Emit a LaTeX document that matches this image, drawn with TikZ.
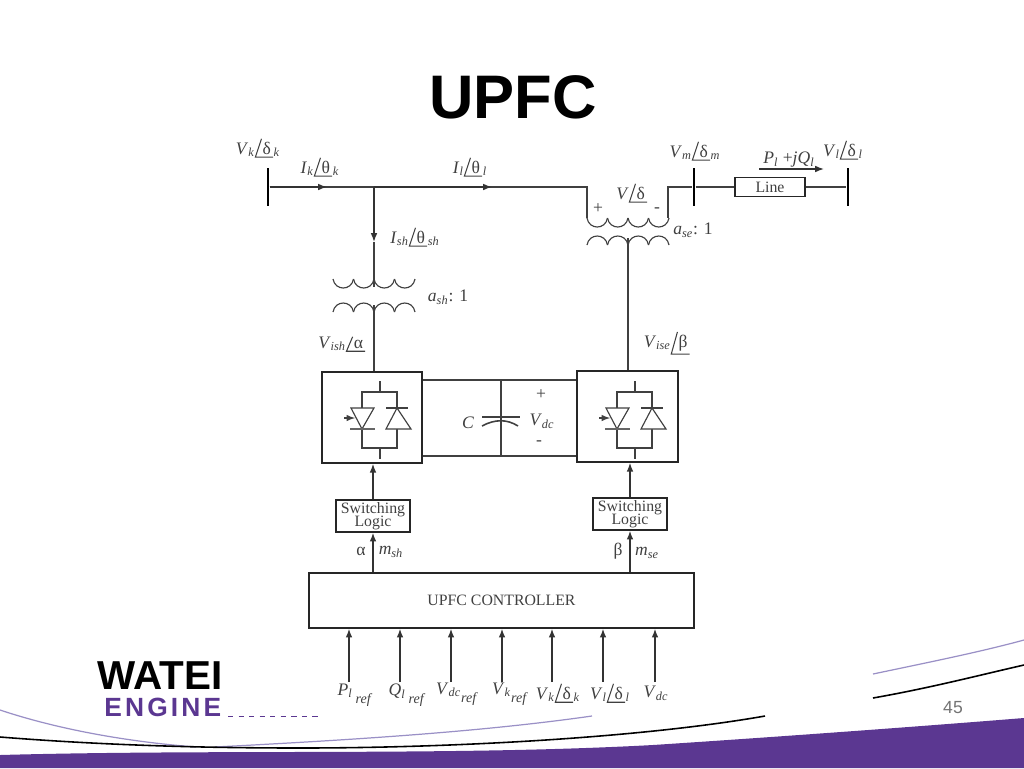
\documentclass[tikz,border=0pt]{standalone}
\usepackage{fontspec}
\setmainfont{Liberation Serif}
\newfontfamily\sansfont{Liberation Sans}
\usetikzlibrary{arrows.meta, positioning}

\definecolor{logopurple}{RGB}{91,55,145}
\definecolor{logolilac}{RGB}{154,144,198}

% label helpers
\newcommand{\lbl}[2]{\textit{#1}\textsubscript{\textit{#2}}}
\newcommand{\refsub}{\raisebox{-4.5pt}{\textit{\footnotesize ref}}}
\newcommand{\phasor}[1]{\tikz[baseline=(ph.base)]{\node[inner xsep=1pt, inner ysep=1.5pt] (ph) {\hspace{3pt}#1};
    \draw[line width=0.6pt] ([xshift=3.5pt]ph.north west) -- (ph.south west) -- (ph.south east);}}

\tikzset{
  coilup/.pic={
    \foreach \k in {0,1,2,3} {
      \draw[wire] (\k*20.5,9) .. controls (\k*20.5+2,-3) and (\k*20.5+18.5,-3) .. (\k*20.5+20.5,9);
    }
  },
  coildown/.pic={
    \foreach \k in {0,1,2,3} {
      \draw[wire] (\k*20.5,0) .. controls (\k*20.5+2,12) and (\k*20.5+18.5,12) .. (\k*20.5+20.5,0);
    }
  },
  switchcell/.pic={
    \draw[wire] (0,-39) -- (0,-28);
    \draw[wire] (-18,-28) rectangle (17,28);
    \draw[wire] (0,28) -- (0,39);
    \draw[wire, fill=white] (-29,-12) -- (-6,-12) -- (-18,9) -- cycle;
    \draw[wire, black!60] (-30,9) -- (-5,9);
    \draw[wire, -latex] (-36,-2) -- (-25,-2);
    \draw[wire, fill=white] (6,9) -- (31,9) -- (17,-12) -- cycle;
    \draw[wire] (6,-12) -- (28,-12);
  }
}

\begin{document}
\begin{tikzpicture}[
      x=0.02cm, y=-0.02cm,
      wire/.style={draw=black!75, line width=0.65pt},
      arrow/.style={-{Latex[length=5pt, width=3.8pt]}, draw=black!80, line width=0.8pt},
      bus/.style={fill=black, inner sep=0pt, minimum width=0.05cm, minimum height=0.76cm},
      block/.style={draw=black!85, line width=0.8pt, inner sep=0pt, align=center, font=\fontsize{9}{10}\selectfont, text=black!75},
      lab/.style={inner sep=0pt, font=\fontsize{10}{11}\selectfont, text=black!75}
    ]
      \useasboundingbox (0,0) rectangle (1024,768);

      % Footer
      \fill[logopurple] (0,755) .. controls (220,749) and (450,756) .. (653,745)
        .. controls (760,738) and (900,728) .. (1024,718) -- (1024,768) -- (0,768) -- cycle;
      \draw[logolilac, line width=0.7pt] (0,710) .. controls (60,730) and (130,742) .. (196,747);
      \draw[logolilac, line width=0.7pt] (215,747) .. controls (350,740) and (480,732) .. (592,716);
      \draw[logolilac, line width=0.7pt] (873,674) .. controls (930,662) and (980,652) .. (1024,640);
      \draw[black, line width=0.9pt] (0,737) .. controls (100,745) and (200,748) .. (300,748)
        .. controls (450,748) and (640,738) .. (765,716);
      \draw[black, line width=0.9pt] (873,698) .. controls (930,688) and (980,675) .. (1024,665);

      % Logo and page number
      \node[inner sep=0pt, anchor=base west, font=\sansfont\bfseries\fontsize{23}{25}\selectfont] (logo_top) at (97,689) {WATEI};
      \node[inner sep=0pt, anchor=base west, text=logopurple, font=\sansfont\bfseries\fontsize{15}{17}\selectfont\addfontfeature{LetterSpace=12}] (logo_bottom) at (104,716) {ENGINE};
      \draw[logopurple, dashed, line width=0.5pt] (228,716) -- (320,716);
      \node[inner sep=0pt, text=black!55, font=\sansfont\fontsize{10}{12}\selectfont] (page_no) at (953,708) {45};

      % Title
      \node[inner sep=0pt, anchor=base, font=\sansfont\bfseries\fontsize{35}{40}\selectfont] (title) at (513,118) {UPFC};

      % Buses
      \node[bus] (bus_k) at (268,187) {};
      \node[bus] (bus_m) at (694,187) {};
      \node[bus] (bus_l) at (848,187) {};

      % Line box
      \node[block, minimum width=1.4cm, minimum height=0.38cm, line width=1pt] (line_box) at (770,187) {Line};

      % Main line with current arrows
      \coordinate (arrow_k) at (327,187);
      \coordinate (junction) at (374,187);
      \coordinate (arrow_l) at (492,187);
      \coordinate (se_in) at (587,187);
      \coordinate (se_out) at (668,187);
      \draw[wire] (bus_k) -- (junction) -- (se_in) -- ++(0,31);
      \draw[arrow] (bus_k) -- (arrow_k);
      \draw[arrow] (junction) -- (arrow_l);
      \draw[wire] (se_out) ++(0,31) -- (se_out) -- (bus_m);
      \draw[wire] (bus_m) -- (line_box);
      \draw[wire] (line_box) -- (bus_l);

      % Shunt transformer
      \pic at (333,279) {coildown};
      \pic at (333,303) {coilup};
      \coordinate (arrow_sh) at (374,242);
      \coordinate (sh_pri) at (374,287);
      \coordinate (sh_sec) at (374,305);
      \draw[arrow] (junction) -- (arrow_sh);
      \draw[wire, line width=0.8pt] (arrow_sh) -- (sh_pri);

      % Series transformer
      \pic at (587,218) {coildown};
      \pic at (587,236) {coilup};
      \coordinate (se_sec) at (628,238);

      % Converters
      \node[draw=black!85, line width=0.9pt, minimum width=2cm, minimum height=1.82cm, inner sep=0pt] (conv_sh) at (372,417.5) {};
      \node[draw=black!85, line width=0.9pt, minimum width=2.02cm, minimum height=1.82cm, inner sep=0pt] (conv_se) at (627.5,416.5) {};
      \pic at (380,420) {switchcell};
      \pic at (635,420) {switchcell};
      \draw[wire, line width=0.8pt] (sh_sec) -- (sh_sec |- conv_sh.north);
      \draw[wire] (se_sec) -- (se_sec |- conv_se.north);

      % DC link
      \coordinate (dc_top) at (501,380);
      \coordinate (dc_bot) at (501,456);
      \draw[wire] (dc_top -| conv_sh.east) -- (dc_top -| conv_se.west);
      \draw[wire] (dc_bot -| conv_sh.east) -- (dc_bot -| conv_se.west);
      \draw[wire, line width=0.9pt] (dc_top) -- (dc_bot);
      \draw[wire] (482,417) -- (520,417);
      \draw[wire, line width=0.9pt] (482,426) .. controls (495,419) and (507,419) .. (518,426);

      % Switching logic and controller
      \node[block, minimum width=1.48cm, minimum height=0.64cm] (logic_sh) at (373,516) {Switching\\[-2.4pt]Logic};
      \node[block, minimum width=1.48cm, minimum height=0.64cm] (logic_se) at (630,514) {Switching\\[-2.4pt]Logic};
      \node[block, minimum width=7.7cm, minimum height=1.1cm] (controller) at (501.5,600.5) {UPFC CONTROLLER};

      \draw[arrow] (logic_sh.north) -- (logic_sh.north |- conv_sh.south);
      \draw[arrow] (logic_se.north) -- (logic_se.north |- conv_se.south);
      \draw[arrow] (logic_sh.south |- controller.north) -- (logic_sh.south);
      \draw[arrow] (logic_se.south |- controller.north) -- (logic_se.south);

      % Controller inputs
      \foreach \i/\x in {1/349, 2/400, 3/451, 4/502, 5/552, 6/603, 7/655} {
        \coordinate (in\i) at (\x,682);
        \draw[arrow] (in\i) -- (in\i |- controller.south);
      }
      \node[lab] (in_p) at (355,695) {\lbl{P}{l}\,\refsub};
      \node[lab] (in_q) at (407,695) {\lbl{Q}{l}\,\refsub};
      \node[lab] (in_vdc) at (457,694) {\lbl{V}{dc}\refsub};
      \node[lab] (in_vk) at (510,694) {\lbl{V}{k}\refsub};
      \node[lab] (in_vkd) at (558,693) {\lbl{V}{k}\phasor{δ}\textsubscript{\textit{k}}};
      \node[lab] (in_vld) at (610,693) {\lbl{V}{l}\phasor{δ}\textsubscript{\textit{l}}};
      \node[lab] (in_vdc2) at (656,693) {\lbl{V}{dc}};

      % Labels - AC side
      \node[lab] (lab_vk) at (258,148) {\lbl{V}{k}\phasor{δ}\textsubscript{\textit{k}}};
      \node[lab] (lab_ik) at (320,167) {\lbl{I}{k}\phasor{θ}\textsubscript{\textit{k}}};
      \node[lab] (lab_il) at (470,167) {\lbl{I}{l}\phasor{θ}\textsubscript{\textit{l}}};
      \node[lab] (lab_ish) at (415,237) {\lbl{I}{sh}\phasor{θ}\textsubscript{\textit{sh}}};
      \node[lab] (lab_ash) at (448,297) {\lbl{a}{sh}: 1};
      \node[lab] (lab_vish) at (342,344) {\lbl{V}{ish}\phasor{α}};
      \node[lab] (lab_v) at (632,193) {\textit{V}\phasor{δ}};
      \node[lab] (lab_plus) at (598,209) {+};
      \node[lab] (lab_minus) at (657,210) {-};
      \node[lab] (lab_vm) at (695,151) {\lbl{V}{m}\phasor{δ}\textsubscript{\textit{m}}};
      \node[lab] (lab_pq) at (789,160) {\lbl{P}{l} +\textit{j}\lbl{Q}{l}};
      \node[lab] (lab_vl) at (843,150) {\lbl{V}{l}\phasor{δ}\textsubscript{\textit{l}}};
      \node[lab] (lab_ase) at (693,230) {\lbl{a}{se}: 1};
      \node[lab] (lab_vise) at (667,343) {\lbl{V}{ise}\phasor{β}};
      \coordinate (pq_start) at (759,169);
      \coordinate (pq_end) at (824,169);
      \draw[arrow] (pq_start) -- (pq_end);

      % Labels - DC side
      \node[lab] (lab_c) at (468,423) {\textit{C}};
      \node[lab] (lab_dcp) at (541,395) {+};
      \node[lab] (lab_vdc) at (542,421) {\lbl{V}{dc}};
      \node[lab] (lab_dcm) at (539,443) {-};

      % Labels - control signals
      \node[lab] (lab_alpha) at (361,551) {α};
      \node[lab] (lab_msh) at (391,552) {\lbl{m}{sh}};
      \node[lab] (lab_beta) at (618,551) {β};
      \node[lab] (lab_mse) at (647,553) {\lbl{m}{se}};

    \end{tikzpicture}
\end{document}
